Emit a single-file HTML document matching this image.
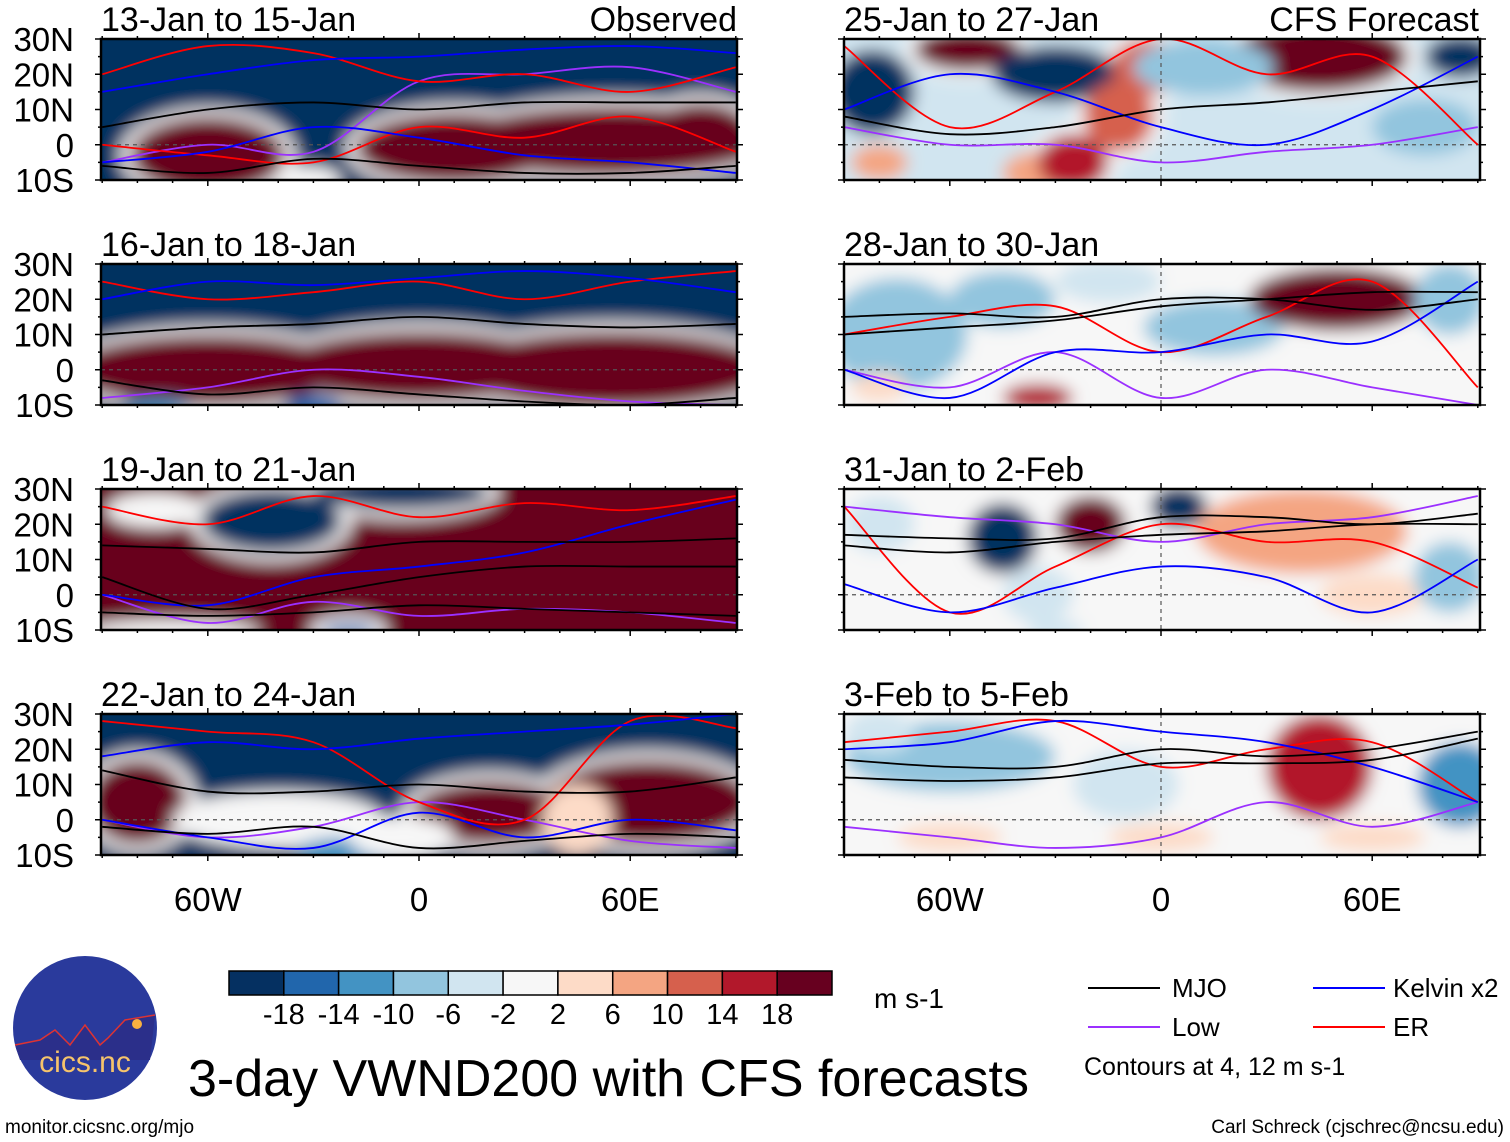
<!DOCTYPE html>
<html><head><meta charset="utf-8">
<style>
body{margin:0;background:#fff;width:1510px;height:1142px;overflow:hidden;font-family:"Liberation Sans",sans-serif}
svg{display:block}
</style></head><body>
<svg id="chart" width="1510" height="1142" viewBox="0 0 1510 1142" xmlns="http://www.w3.org/2000/svg" font-family="Liberation Sans, sans-serif">
<defs><filter id="blur" x="-5%" y="-20%" width="110%" height="140%"><feGaussianBlur stdDeviation="8"/></filter></defs>
<g id="panels"></g>
<g id="legend"></g>
</svg>
<script>
const NS="http://www.w3.org/2000/svg";
const levels=[-18,-14,-10,-6,-2,2,6,10,14,18];
const colors=["#053061","#2166ac","#4393c3","#92c5de","#d1e5f0","#f7f7f7","#fddbc7","#f4a582","#d6604d","#b2182b","#67001f"];
const panelTitles=["13-Jan to 15-Jan","16-Jan to 18-Jan","19-Jan to 21-Jan","22-Jan to 24-Jan","25-Jan to 27-Jan","28-Jan to 30-Jan","31-Jan to 2-Feb","3-Feb to 5-Feb"];
const panelBg=[-22,-22,22,-22,-3,0,0,0];
// blobs: [lon, lat, rxDeg, ryDeg, value]
const blobs=[
 [[-60,-3,22,11,22],[-32,-10,10,4,0],[10,-1,28,10,22],[55,1,45,10,22],[80,3,15,9,22]],
 [[-60,0,40,10,22],[0,1,40,10,22],[55,0,45,11,22],[-30,-10,8,3,-14],[-75,-10,10,2,-10]],
 [[-42,21,20,9,-22],[-5,29,25,5,-22],[-75,24,14,5,2],[-70,-10,25,3,0],[-20,-10,8,2,-14]],
 [[-80,5,14,12,22],[20,2,22,9,22],[65,5,30,12,22],[-40,0,30,8,2],[-20,-9,15,4,-10],[-5,-5,15,6,2],[45,0,10,10,6]],
 [[-82,15,12,12,-20],[-55,27,15,6,22],[-30,20,18,8,-20],[-35,-8,10,6,8],[-25,-5,10,8,18],[-12,8,10,10,14],[-4,22,10,8,12],[45,25,25,10,22],[85,25,10,6,-20],[12,22,20,8,-8],[75,5,15,8,-6],[-80,-5,8,5,8],[30,3,10,6,-4]],
 [[-75,10,20,16,-8],[-45,20,15,8,-6],[-35,-8,10,4,16],[-15,25,15,6,-4],[15,12,20,8,-6],[50,20,25,9,20],[82,20,10,10,-6],[-80,-5,8,4,4]],
 [[-45,16,10,10,-18],[-20,20,10,8,20],[5,25,8,6,-18],[40,18,30,12,10],[-80,20,10,8,-4],[-35,0,10,8,-3],[60,0,15,6,5],[82,5,10,10,-6],[-30,-10,8,3,-4]],
 [[-60,18,30,10,-6],[-10,10,15,10,-4],[45,15,15,15,16],[85,10,12,12,-10],[-60,-5,15,4,4],[0,-5,15,4,5],[60,-5,15,4,5],[-80,25,10,6,-4]]
];
const mjoLines=[
 [[5,10,12,10,12,12,12],[-6,-8,-4,-6,-8,-8,-6]],
 [[10,12,13,15,13,12,13],[-3,-7,-5,-7,-9,-10,-8]],
 [[14,13,12,15,15,15,16],[5,-4,0,5,8,8,8],[-5,-6,-5,-3,-4,-5,-6]],
 [[14,8,8,10,8,8,12],[-2,-4,-2,-8,-6,-4,-5]],
 [[8,3,5,10,12,15,18]],
 [[15,16,15,20,20,17,20],[10,12,14,18,20,22,22]],
 [[14,12,15,17,18,20,20],[17,16,16,22,22,20,23]],
 [[17,15,15,20,18,20,25],[12,11,12,16,16,17,23]]
];
const kelvinLines=[
 [[15,20,24,25,27,28,26],[ -5,-2,5,2,-3,-5,-8]],
 [[20,25,24,26,28,26,22]],
 [[0,-3,5,8,12,20,27]],
 [[18,22,20,23,25,27,30],[0,-5,-8,2,-5,0,-3]],
 [[10,20,15,5,0,10,25]],
 [[0,-8,5,5,10,8,25]],
 [[3,-5,2,8,5,-5,10]],
 [[20,22,28,25,22,15,5]]
];
const erLines=[
 [[20,28,26,18,20,15,22],[0,-3,-5,5,2,8,-2]],
 [[25,20,22,25,20,25,28]],
 [[25,20,28,22,26,24,28]],
 [[28,25,22,5,0,28,26]],
 [[28,5,15,30,20,25,0]],
 [[10,15,18,5,15,25,-5]],
 [[25,-5,8,20,15,15,2]],
 [[22,25,28,15,20,22,5]]
];
const lowLines=[
 [[-5,0,-2,18,20,22,15]],[[-8,-5,0,-2,-6,-9,-10]],[[0,-8,-2,-6,-4,-5,-8]],[[0,-5,-2,5,0,-6,-8]],
 [[5,0,0,-5,-2,0,5]],[[0,-5,5,-8,0,-5,-10]],[[25,22,20,15,20,22,28]],[[-2,-5,-8,-5,5,-2,5]]
];
const lonTicks=[-60,0,60];
const lonLabels=["60W","0","60E"];
const latTicks=[30,20,10,0,-10];
const latLabels=["30N","20N","10N","0","10S"];

const rowTop=[39,264,489,714], panelH=141, PX=3.52;
const colCenter=[419,1161], colLeft=[101,844], panelW=636;
function xOf(col,lon){return colCenter[col]+lon*PX;}
function yOf(row,lat){return rowTop[row]+(30-lat)*panelH/40;}
function colorOf(v){let i=0;while(i<levels.length&&v>levels[i])i++;return colors[i];}
function el(tag,attrs,parent){const e=document.createElementNS(NS,tag);for(const k in attrs)e.setAttribute(k,attrs[k]);parent.appendChild(e);return e;}
function smooth(pts){let d='M'+pts[0][0]+','+pts[0][1];
  for(let i=0;i<pts.length-1;i++){const p0=pts[Math.max(0,i-1)],p1=pts[i],p2=pts[i+1],p3=pts[Math.min(pts.length-1,i+2)];
    const c1=[p1[0]+(p2[0]-p0[0])/6,p1[1]+(p2[1]-p0[1])/6],c2=[p2[0]-(p3[0]-p1[0])/6,p2[1]-(p3[1]-p1[1])/6];
    d+=' C'+c1+' '+c2+' '+p2;}
  return d;}

const root=document.getElementById('panels');
for(let p=0;p<8;p++){
  const col=p<4?0:1,row=p%4;
  const g=el('g',{},root);
  
  
  const cid='clip'+p;
  const cp=el('clipPath',{id:cid},g);
  el('rect',{x:colLeft[col],y:rowTop[row],width:panelW,height:panelH},cp);
  const fillG=el('g',{'clip-path':'url(#'+cid+')'},g);
  el('rect',{x:colLeft[col],y:rowTop[row],width:panelW,height:panelH,fill:colorOf(panelBg[p])},fillG);
  const bl=el('g',{filter:'url(#blur)'},fillG);
  el('rect',{x:colLeft[col]-30,y:rowTop[row]-30,width:panelW+60,height:panelH+60,fill:colorOf(panelBg[p])},bl);
  blobs[p].forEach(b=>{ if(Math.abs(b[4])>8 && Math.sign(b[4])!==Math.sign(panelBg[p])){
    const h=el('ellipse',{cx:xOf(col,b[0]),cy:yOf(row,b[1]),rx:(b[2]+3)*PX,ry:(b[3]+2.5)*panelH/40,fill:'#f7f7f7'},bl);
    
    
  }});
  blobs[p].forEach(b=>{
    const e=el('ellipse',{cx:xOf(col,b[0]),cy:yOf(row,b[1]),rx:b[2]*PX,ry:b[3]*panelH/40,fill:colorOf(b[4])},bl);
    
    
  });
  el('line',{x1:colLeft[col],x2:colLeft[col]+panelW,y1:yOf(row,0),y2:yOf(row,0),stroke:'#555','stroke-dasharray':'4 4','stroke-width':1.2},fillG);
  if(col==1) el('line',{x1:xOf(col,0),x2:xOf(col,0),y1:rowTop[row],y2:rowTop[row]+panelH,stroke:'#555','stroke-dasharray':'4 4','stroke-width':1.2},fillG);
  const drawLines=(arr,stroke,name)=>{arr.forEach(ln=>{
    const pts=ln.map((lat,i)=>[xOf(col,-90+i*30),yOf(row,lat)]);
    const pl=el('path',{d:smooth(pts),fill:'none',stroke:stroke,'stroke-width':1.8}, fillG);
    
    
  });};
  drawLines(lowLines[p],'#9b30ff','low-contour');
  drawLines(erLines[p],'#ff0000','er-contour');
  drawLines(kelvinLines[p],'#0000ff','kelvin-contour');
  drawLines(mjoLines[p],'#000','mjo-contour');
  const fr=el('rect',{x:colLeft[col],y:rowTop[row],width:panelW,height:panelH,fill:'none',stroke:'#000','stroke-width':2.5},g);
  
  
  for(let lon=-90;lon<=90;lon+=10){const x=xOf(col,lon),big=lon%60==0;
    el('line',{x1:x,x2:x,y1:rowTop[row],y2:rowTop[row]-(big?6:3),stroke:'#000','stroke-width':1.5},g);
    el('line',{x1:x,x2:x,y1:rowTop[row]+panelH,y2:rowTop[row]+panelH+(big?6:3),stroke:'#000','stroke-width':1.5},g);}
  for(let lat=-10;lat<=30;lat+=5){const y=yOf(row,lat),big=lat%10==0;
    el('line',{x1:colLeft[col],x2:colLeft[col]-(big?6:3),y1:y,y2:y,stroke:'#000','stroke-width':1.5},g);
    el('line',{x1:colLeft[col]+panelW,x2:colLeft[col]+panelW+(big?6:3),y1:y,y2:y,stroke:'#000','stroke-width':1.5},g);}
  const t=el('text',{x:colLeft[col],y:rowTop[row]-8,'font-size':34},g);t.textContent=panelTitles[p];
  
  
  if(col==0){latTicks.forEach((lat,i)=>{const l=el('text',{x:74,y:yOf(row,lat)+12,'font-size':33,'text-anchor':'end'},g);l.textContent=latLabels[i];
    
    });}
  if(row==3){lonTicks.forEach((lon,i)=>{const l=el('text',{x:xOf(col,lon),y:911,'font-size':33,'text-anchor':'middle'},g);l.textContent=lonLabels[i];
    
    });}
}
const cornerT=[['Observed',737],['CFS Forecast',1479]];
cornerT.forEach(c=>{const t=el('text',{x:c[1],y:31,'font-size':34,'text-anchor':'end'},root);t.textContent=c[0];
  
  });

const lg=document.getElementById('legend');
const cbX=229,cbW=603/11;
colors.forEach((c,i)=>{const r=el('rect',{x:cbX+i*cbW,y:971,width:cbW,height:24,fill:c,stroke:'#000','stroke-width':1.5},lg);
  
  });
levels.forEach((v,i)=>{const t=el('text',{x:cbX+(i+1)*cbW,y:1024,'font-size':29,'text-anchor':'middle'},lg);t.textContent=v;
  
  });
</script>
<svg style="position:absolute;left:0;top:0" width="1510" height="1142" xmlns="http://www.w3.org/2000/svg" font-family="Liberation Sans, sans-serif">
<text x="874" y="1008" font-size="28">m s-1</text>
<g>
<line x1="1088" y1="988" x2="1160" y2="988" stroke="#000" stroke-width="2"/><text x="1172" y="997" font-size="26">MJO</text>
<line x1="1313" y1="988" x2="1385" y2="988" stroke="#0000ff" stroke-width="2"/><text x="1393" y="997" font-size="26">Kelvin x2</text>
<line x1="1088" y1="1027" x2="1160" y2="1027" stroke="#9b30ff" stroke-width="2"/><text x="1172" y="1036" font-size="26">Low</text>
<line x1="1313" y1="1027" x2="1385" y2="1027" stroke="#ff0000" stroke-width="2"/><text x="1393" y="1036" font-size="26">ER</text>
<text x="1084" y="1075" font-size="25">Contours at 4, 12 m s-1</text>
</g>
<text x="188" y="1096" font-size="52">3-day VWND200 with CFS forecasts</text>
<text x="5" y="1133" font-size="19">monitor.cicsnc.org/mjo</text>
<text x="1504" y="1133" font-size="19" text-anchor="end">Carl Schreck (cjschrec@ncsu.edu)</text>
<g>
<circle cx="85" cy="1028" r="72" fill="#2a3a9c"/>
<path d="M15,1045 L40,1040 L55,1030 L70,1045 L85,1025 L100,1045 L108,1038 L125,1020 L155,1015 L150,1060 L20,1060 Z" fill="#2b2f8a"/>
<polyline points="15,1045 40,1040 55,1030 70,1045 85,1025 100,1045 108,1038 125,1020 155,1015" fill="none" stroke="#d33" stroke-width="1.5"/>
<circle cx="137" cy="1024" r="5" fill="#f8b040"/>
<text x="85" y="1072" font-size="30" fill="#f6c46b" text-anchor="middle">cics.nc</text>
</g>
</svg>
</body></html>
